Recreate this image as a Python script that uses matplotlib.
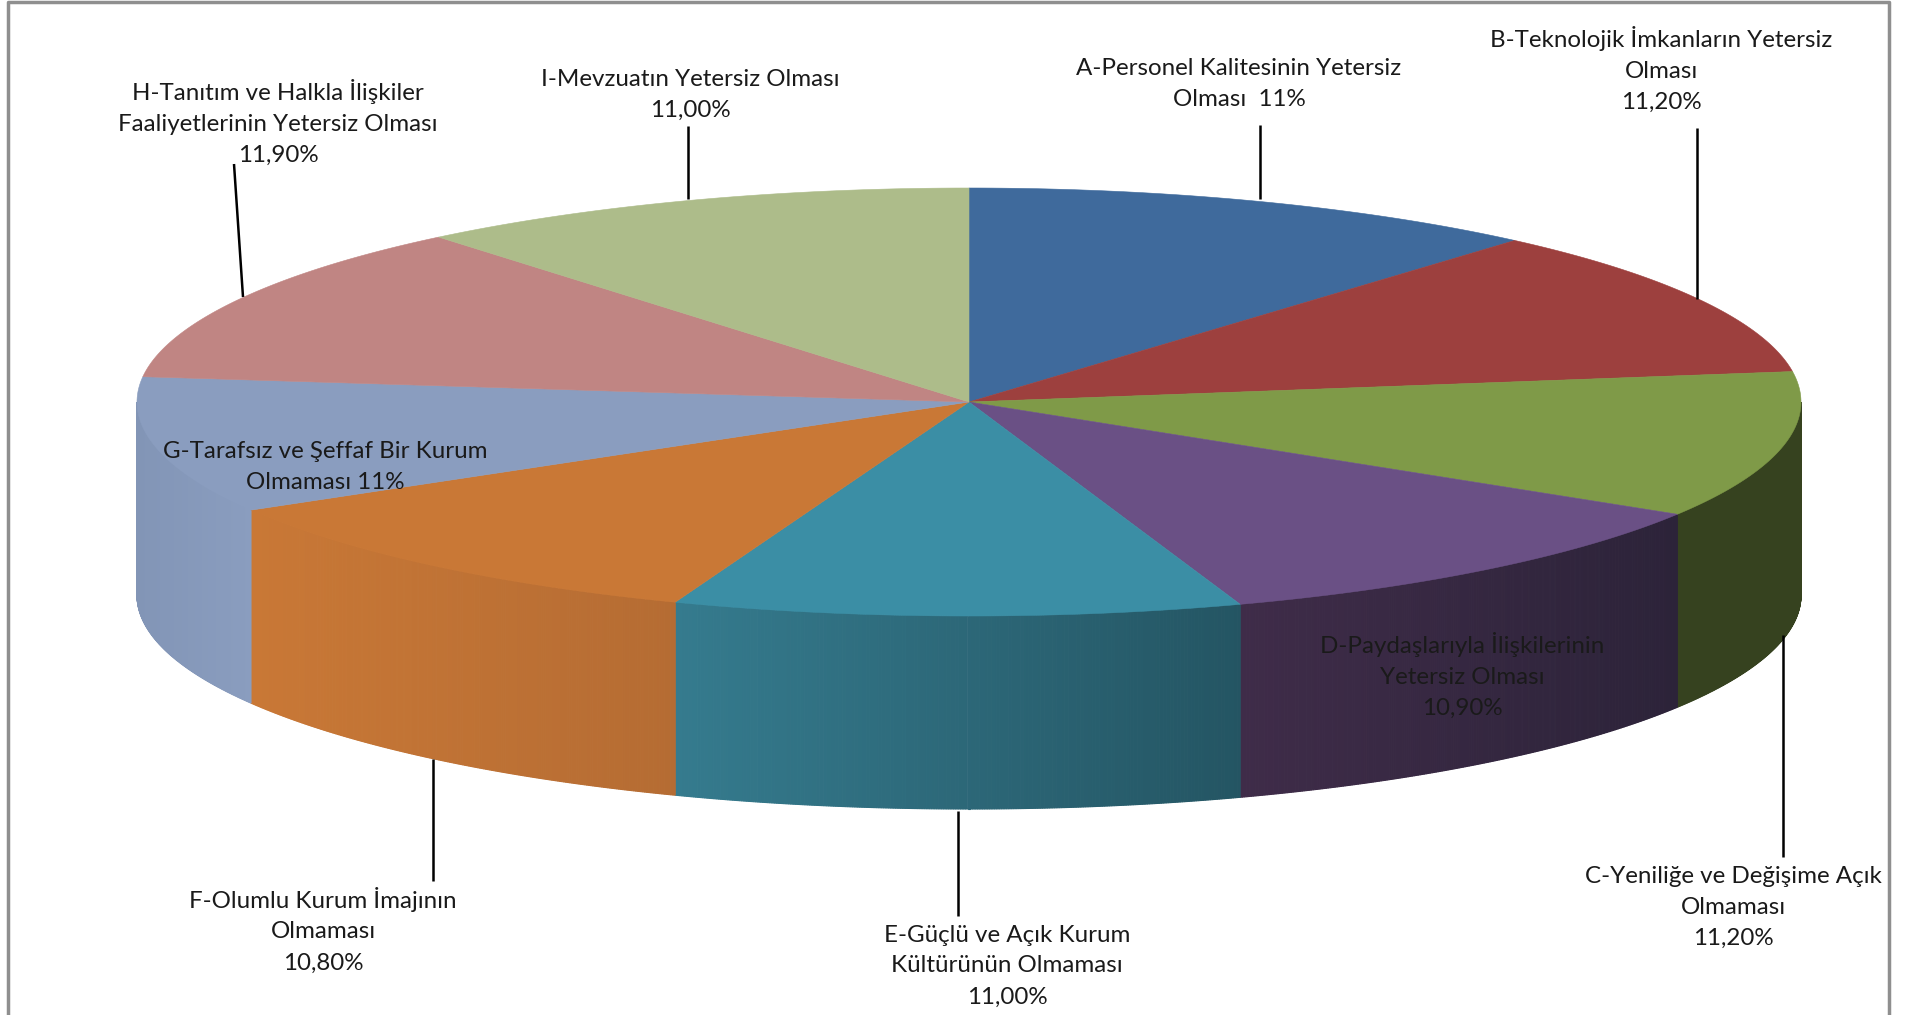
import numpy as np
import matplotlib
matplotlib.use('Agg')
import matplotlib.pyplot as plt
from matplotlib.patches import Polygon

plt.rcParams['font.family'] = ['Lato', 'DejaVu Sans']

labels = ['A-Personel Kalitesinin Yetersiz\nOlması  11%',
          'B-Teknolojik İmkanların Yetersiz\nOlması\n11,20%',
          'C-Yeniliğe ve Değişime Açık\nOlmaması\n11,20%',
          'D-Paydaşlarıyla İlişkilerinin\nYetersiz Olması\n10,90%',
          'E-Güçlü ve Açık Kurum\nKültürünün Olmaması\n11,00%',
          'F-Olumlu Kurum İmajının\nOlmaması\n10,80%',
          'G-Tarafsız ve Şeffaf Bir Kurum\nOlmaması 11%',
          'H-Tanıtım ve Halkla İlişkiler\nFaaliyetlerinin Yetersiz Olması\n11,90%',
          'I-Mevzuatın Yetersiz Olması\n11,00%']
values = [11, 11.2, 11.2, 10.9, 11, 10.8, 11, 11.9, 11]

top_colors = ['#3f6a9c', '#9d403e', '#7f9a48', '#6a5085', '#3b8ea5',
              '#c97836', '#8a9dbf', '#c08583', '#adbc8a']
# wall colours, left end and right end of each visible wall
wall_left = ['#3f6a9c', '#9d403e', '#36421f', '#3f2c49', '#357b8e',
             '#c97836', '#8295b6', '#c08583', '#adbc8a']
wall_right = ['#3f6a9c', '#9d403e', '#36421f', '#2c2339', '#245563',
              '#b56c33', '#8a9dbf', '#c08583', '#adbc8a']

# where each label sits and its leader line
label_x = [1239, 1661, 1733, 1462, 1007, 323, 325, 278, 690]
label_y = [84, 69, 907, 675, 966, 930, 467, 122, 95]
leaders = [((1260, 125), (1260, 199)), ((1697, 128), (1697, 299)),
           ((1783, 635), (1783, 857)), None, ((958, 811), (958, 916)),
           ((433, 759), (433, 881)), None, ((234, 164), (243, 297)),
           ((688, 126), (688, 199))]

cx, cy = 969, 402
rx, ry = 832, 214
depth = 193

# the 3d view skews the slice edges a little along the rim (degrees)
skew_at = [0, 40, 80, 120, 160, 200, 240, 278, 320, 360]
skew_by = [0, 1.4, 1.9, 1.4, 1.5, 1.6, 1.7, -0.8, 0, 0]


def rim(a):
    # a in degrees, clockwise from the top of the pie
    r = np.radians(a)
    return cx + rx * np.sin(r), cy - ry * np.cos(r)


fig = plt.figure(figsize=(19.14, 10.15), dpi=100)
ax = fig.add_axes([0, 0, 1, 1])
ax.set_xlim(0, 1914)
ax.set_ylim(1015, 0)
ax.axis('off')

# grey frame, open at the bottom
ax.plot([8, 8, 1889, 1889], [1015, 2, 2, 1015], color='#8f8f8f', lw=2.5, zorder=1)

edges = np.cumsum([0] + values) * 360 / sum(values)
edges = edges + np.interp(edges, skew_at, skew_by)

# side walls first, only the part facing the viewer
for i in range(len(values)):
    a0 = max(edges[i], 90)
    a1 = min(edges[i + 1], 270)
    if a1 <= a0:
        continue
    c0 = np.array(matplotlib.colors.to_rgb(wall_left[i]))
    c1 = np.array(matplotlib.colors.to_rgb(wall_right[i]))
    aa = np.linspace(a0, a1, 240)
    xs, ys = rim(aa)
    x_lo, x_hi = xs.min(), xs.max()
    for k in range(len(aa) - 1):
        t = ((xs[k] + xs[k + 1]) / 2 - x_lo) / (x_hi - x_lo)
        col = c0 + (c1 - c0) * t
        quad = [(xs[k], ys[k]), (xs[k + 1], ys[k + 1]),
                (xs[k + 1], ys[k + 1] + depth), (xs[k], ys[k] + depth)]
        ax.add_patch(Polygon(quad, closed=True, fc=col, ec=col, lw=0.8, zorder=2))

# top face
for i in range(len(values)):
    aa = np.linspace(edges[i], edges[i + 1], 80)
    xs, ys = rim(aa)
    pts = [(cx, cy)] + list(zip(xs, ys))
    ax.add_patch(Polygon(pts, closed=True, fc=top_colors[i], ec=top_colors[i],
                         lw=0.4, zorder=3))

for seg in leaders:
    if seg is not None:
        ax.plot([seg[0][0], seg[1][0]], [seg[0][1], seg[1][1]], color='black',
                lw=1.8, zorder=4, solid_capstyle='butt')

for i in range(len(labels)):
    ax.text(label_x[i], label_y[i], labels[i], ha='center', va='center',
            fontsize=17.4, color='#1a1a1a', linespacing=1.58, zorder=5)

fig.savefig('out.png', dpi=100, facecolor='white')
